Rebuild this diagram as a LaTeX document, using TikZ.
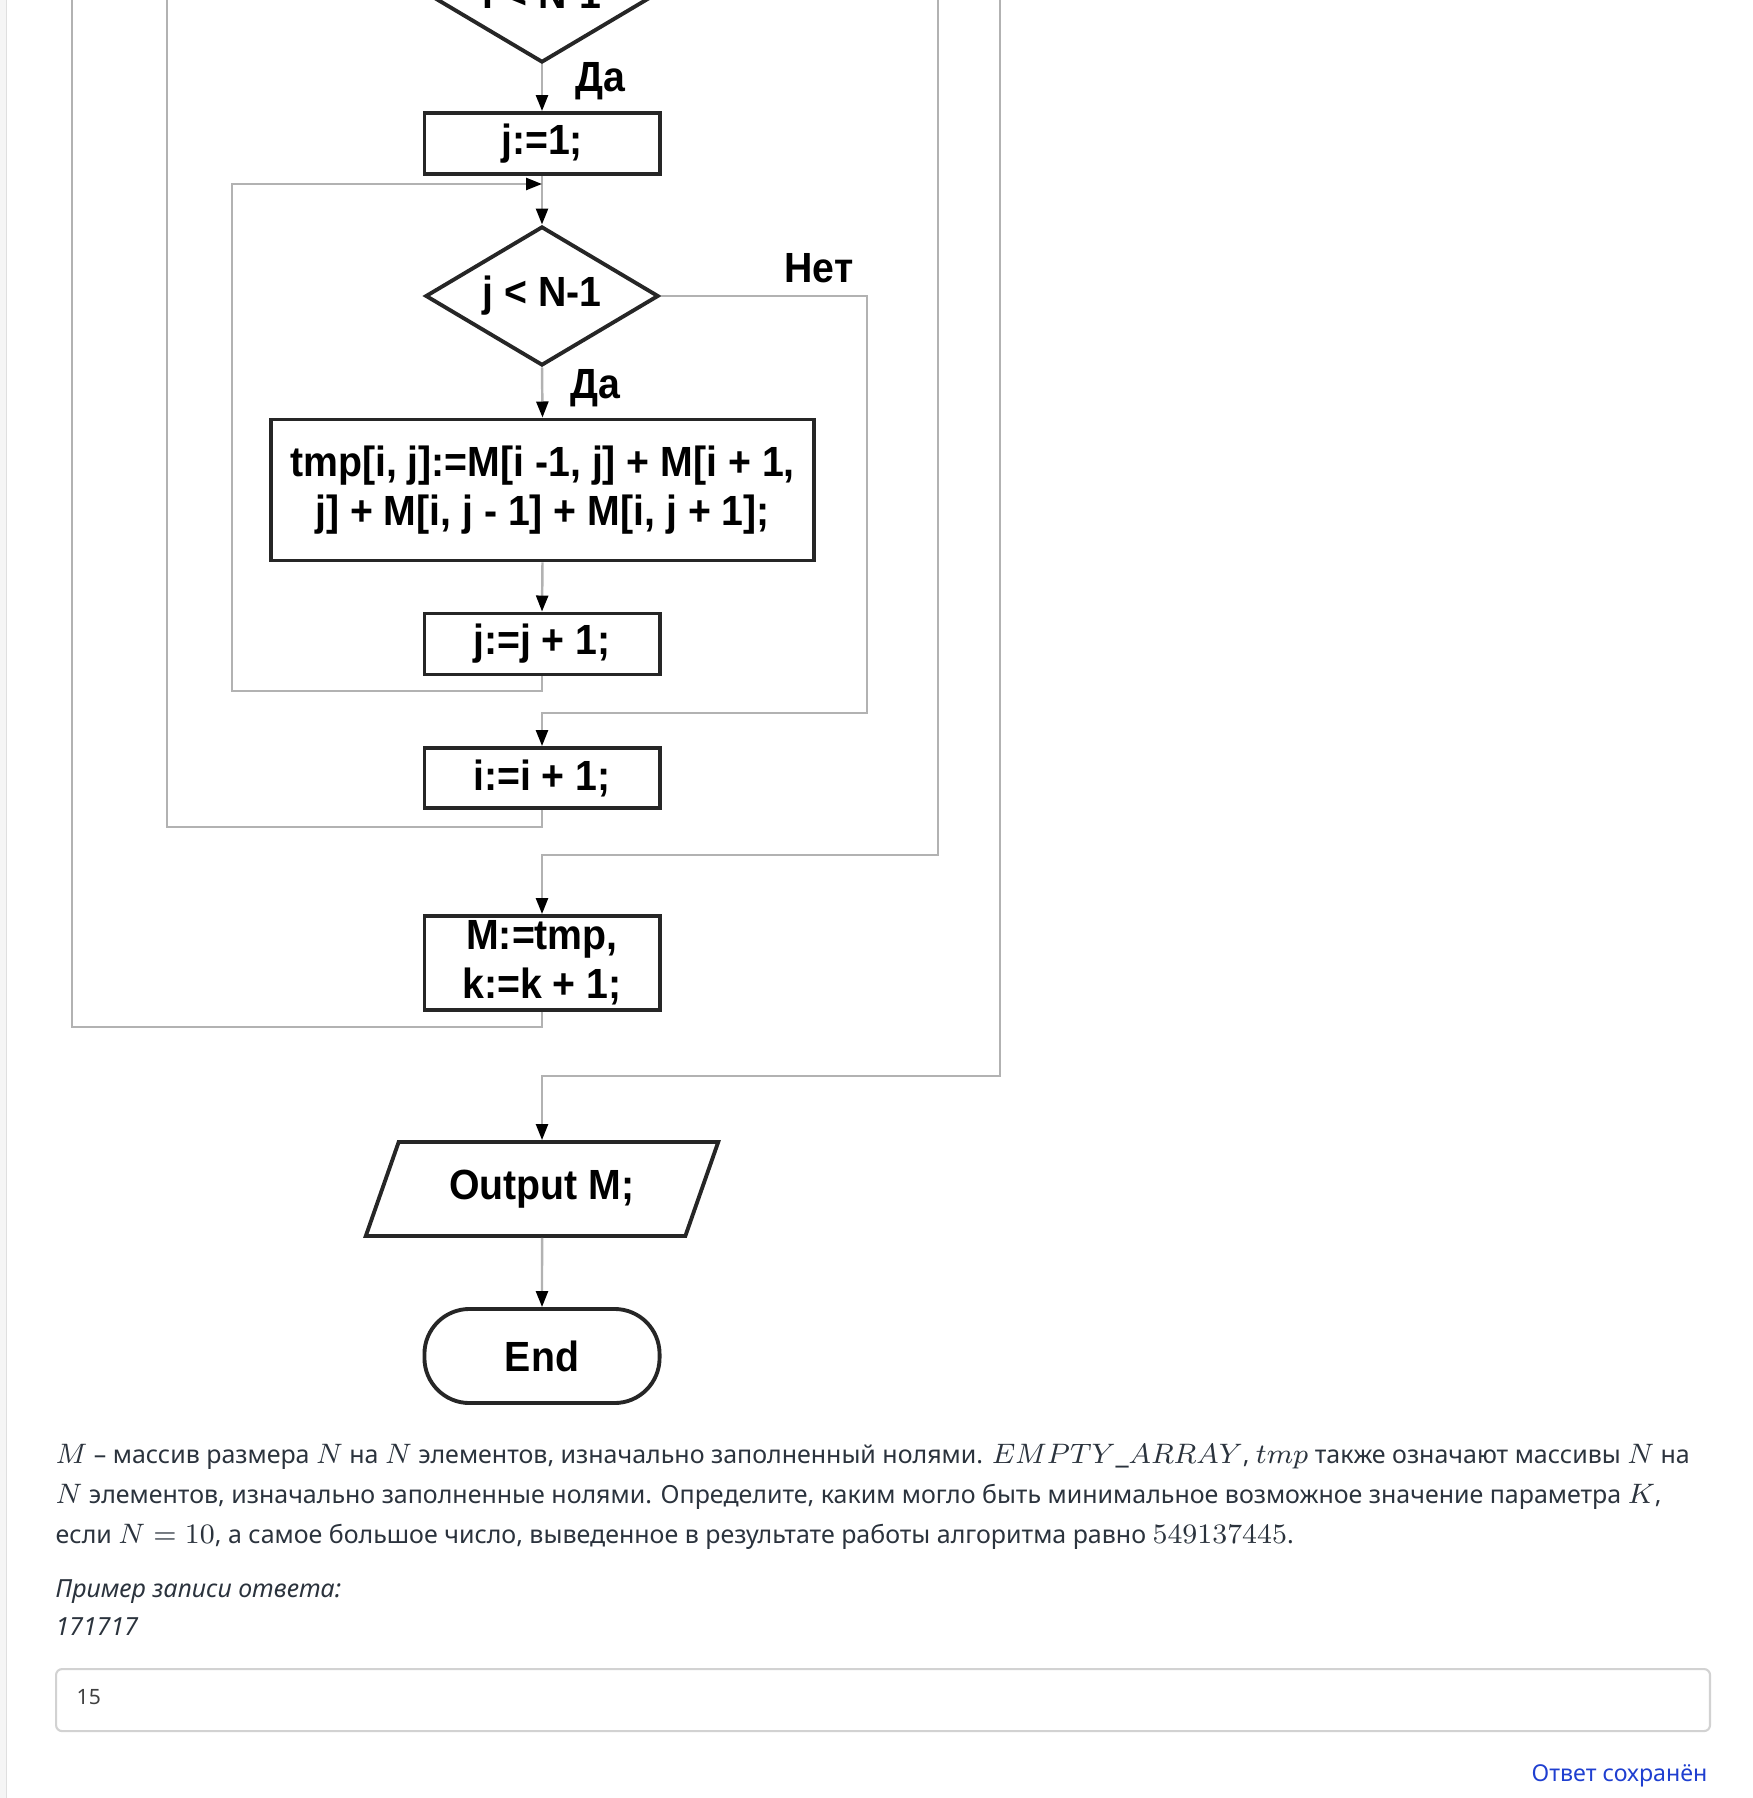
\documentclass[tikz,border=0pt]{standalone}
\usepackage{fontspec}
\setmainfont{Noto Sans}
\newfontfamily\chartfont[FakeStretch=0.93]{Liberation Sans}
\usetikzlibrary{shapes.geometric,arrows.meta}

\definecolor{txt}{HTML}{2B333D}
\definecolor{saved}{HTML}{1F3FD0}
\newcommand{\km}[1]{{\fontsize{8.4}{11}\selectfont$#1$}}

\tikzset{
  block/.style={draw=black!85, line width=1.1pt, fill=white, minimum width=2.35cm,
    minimum height=0.61cm, inner sep=1pt, align=center,
    font=\chartfont\bfseries\fontsize{12}{14}\selectfont},
  decision/.style={block, diamond, minimum width=2.33cm, minimum height=1.39cm,
    inner sep=0pt, aspect=1.7},
  line/.style={draw=gray!60, line width=0.7pt},
  arr/.style={line, -{Triangle[length=0.16cm,width=0.12cm,color=black]}},
  lbl/.style={font=\chartfont\bfseries\fontsize{12}{14}\selectfont},
  para/.style={inner sep=0pt, text=txt, font=\fontsize{7.1}{10}\selectfont}
}

\begin{document}
\begin{tikzpicture}[x=0.01cm, y=-0.01cm]
\useasboundingbox (0,0) rectangle (1752,1798);
\clip (0,0) rectangle (1752,1798);

% page edge
\fill[gray!8] (0,0) rectangle (6,1798);
\draw[gray!25, line width=0.5pt] (6.5,0) -- (6.5,1798);

% blocks
\node[decision] (cmpI) at (542,-7) {i < N-1};
\node[block] (setJ) at (542,143.5) {j:=1;};
\node[decision] (cmpJ) at (542,296) {j < N-1};
\node[block, minimum width=5.43cm, minimum height=1.41cm] (sum) at (542.5,490)
  {tmp[i, j]:=M[i -1, j] + M[i + 1,\\ j] + M[i, j - 1] + M[i, j + 1];};
\node[block] (incJ) at (542,644) {j:=j + 1;};
\node[block, minimum height=0.60cm] (incI) at (542,778) {i:=i + 1;};
\node[block, minimum height=0.94cm] (swap) at (542,963) {M:=tmp,\\k:=k + 1;};
\node[block, trapezium, trapezium left angle=64, trapezium right angle=116,
  trapezium stretches=true, minimum width=3.54cm, minimum height=0.94cm] (out)
  at (542,1189) {Output M;};
\node[block, rounded corners=0.45cm, minimum height=0.94cm] (endN) at (542,1356) {End};

% labels
\node[lbl] (yesI) at (600,81) {Да};
\node[lbl] (yesJ) at (595,388) {Да};
\node[lbl] (noJ) at (819,268) {Нет};

% bends
\coordinate (jloop) at (232,691);
\coordinate (jin) at (542,184);
\coordinate (jexit) at (867,713);
\coordinate (iloop) at (167,827);
\coordinate (itop) at (167,-5);
\coordinate (intop) at (938,-5);
\coordinate (iexit) at (938,855);
\coordinate (kloop) at (72,1027);
\coordinate (ktop) at (72,-5);
\coordinate (kntop) at (1000,-5);
\coordinate (kexit) at (1000,1076);

% connectors
\draw[arr] (cmpI.south) -- (setJ.north);
\draw[arr] (setJ.south) -- (cmpJ.north);
\draw[arr] (cmpJ.south) -- (sum.north);
\draw[arr] (sum.south) -- (incJ.north);
\draw[arr] (incJ.south) |- (jloop) |- (jin);
\draw[arr] (cmpJ.east) -| (jexit) -| (incI.north);
\draw[line] (incI.south) |- (iloop) -- (itop);
\draw[arr] (intop) -- (iexit) -| (swap.north);
\draw[line] (swap.south) |- (kloop) -- (ktop);
\draw[arr] (kntop) -- (kexit) -| (out.north);
\draw[arr] (out.south) -- (endN.north);

% task text
\node[para, anchor=base west] (p1) at (55,1463) {\km{M} – массив размера \km{N} на \km{N} элементов, изначально заполненный нолями. \km{EMPTY\_ARRAY}, \km{tmp} также означают массивы \km{N} на};
\node[para, anchor=base west] (p2) at (55,1503) {\km{N} элементов, изначально заполненные нолями. Определите, каким могло быть минимальное возможное значение параметра \km{K},};
\node[para, anchor=base west] (p3) at (55,1543) {если \km{N = 10}, а самое большое число, выведенное в результате работы алгоритма равно \km{549137445}.};
\node[para, anchor=base west, font=\itshape\fontsize{7.1}{10}\selectfont] (ex1) at (55,1597) {Пример записи ответа:};
\node[para, anchor=base west, font=\itshape\fontsize{7.1}{10}\selectfont] (ex2) at (55,1635) {171717};

% answer field
\node[draw=gray!35, line width=0.6pt, rounded corners=0.06cm, minimum width=16.53cm,
  minimum height=0.62cm, anchor=north west, inner sep=0pt] (answer) at (55,1668) {};
\node[para, anchor=west, text=black!75, font=\fontsize{6}{8}\selectfont] (ans) at (76,1697) {15};
\node[para, anchor=east, text=saved, font=\fontsize{6.6}{9}\selectfont] (state) at (1708,1776) {Ответ сохранён};
\end{tikzpicture}
\end{document}
